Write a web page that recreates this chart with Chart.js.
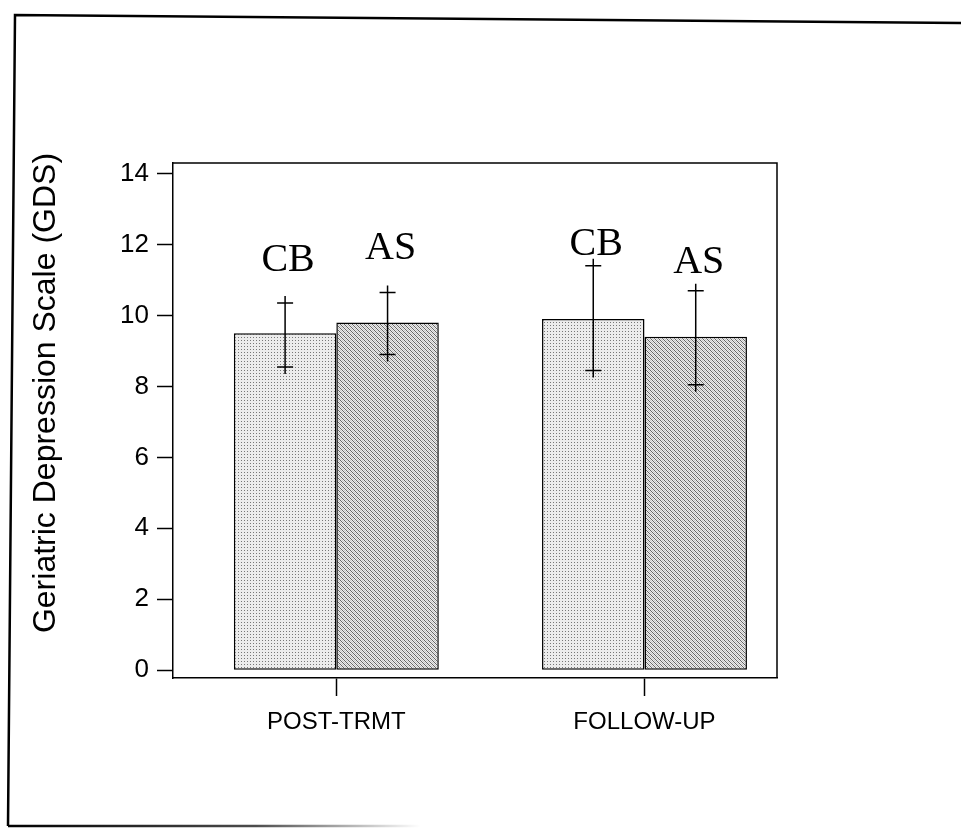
<!DOCTYPE html>
<html>
<head>
<meta charset="utf-8">
<script src="https://cdn.jsdelivr.net/npm/chart.js@4/dist/chart.umd.min.js"></script>
<style>
  html, body { margin: 0; padding: 0; background: #fff; }
  #wrap { width: 961px; height: 829px; }
</style>
</head>
<body>
<div id="wrap"><canvas id="gdsChart" width="961" height="829"></canvas></div>
<script>
// values
const categories = ['POST-TRMT', 'FOLLOW-UP'];
const groupNames = ['CB', 'AS'];
const cbMeans = [9.5, 9.9];
const asMeans = [9.8, 9.4];
const cbErrLow = [8.55, 8.45];
const cbErrHigh = [10.35, 11.4];
const asErrLow = [8.9, 8.05];
const asErrHigh = [10.65, 10.7];
const yTicks = [0, 2, 4, 6, 8, 10, 12, 14];
// value at which the CB / AS tags sit (text baseline)
const cbTagAt = [11.25, 11.7];
const asTagAt = [11.6, 11.2];

const SANS = '"Liberation Sans", Arial, sans-serif';
const SERIF = '"Liberation Serif", "Times New Roman", serif';

function makePattern(kind) {
  const c = document.createElement('canvas');
  const p = c.getContext('2d');
  if (kind === 'dots') {
    c.width = 3; c.height = 3;
    p.fillStyle = '#ececec';
    p.fillRect(0, 0, 3, 3);
    p.fillStyle = '#777';
    p.fillRect(1, 1, 1, 1);
  } else {
    c.width = 4; c.height = 4;
    p.fillStyle = '#ececec';
    p.fillRect(0, 0, 4, 4);
    p.fillStyle = '#666';
    for (let i = 0; i < 4; i++) {
      p.fillRect(i, i, 1, 1);
    }
    p.fillStyle = '#c4c4c4';
    for (let i = 0; i < 4; i++) {
      p.fillRect((i + 2) % 4, i, 1, 1);
    }
  }
  return p.createPattern(c, 'repeat');
}

function points(arr) {
  return arr.map((v, i) => ({ x: i + 1, y: v }));
}

const errors = [
  { low: cbErrLow, high: cbErrHigh },
  { low: asErrLow, high: asErrHigh }
];
const tags = [cbTagAt, asTagAt];

// page frame of the scanned figure
const pageFrame = {
  id: 'pageFrame',
  beforeDraw(chart) {
    const ctx = chart.ctx;
    ctx.save();
    ctx.strokeStyle = '#000';
    ctx.lineWidth = 2.5;
    ctx.beginPath();
    ctx.moveTo(961, 23);
    ctx.lineTo(15, 15);
    ctx.lineTo(8, 826);
    ctx.stroke();
    const g = ctx.createLinearGradient(8, 0, 420, 0);
    g.addColorStop(0, 'rgba(0,0,0,1)');
    g.addColorStop(0.6, 'rgba(0,0,0,0.7)');
    g.addColorStop(1, 'rgba(0,0,0,0)');
    ctx.strokeStyle = g;
    ctx.beginPath();
    ctx.moveTo(8, 826);
    ctx.lineTo(420, 826);
    ctx.stroke();
    ctx.restore();
  }
};

// top and right edges of the plot box
const plotBox = {
  id: 'plotBox',
  afterDraw(chart) {
    const a = chart.chartArea;
    const ctx = chart.ctx;
    ctx.save();
    ctx.strokeStyle = '#000';
    ctx.lineWidth = 1.5;
    ctx.beginPath();
    ctx.moveTo(a.left, a.top);
    ctx.lineTo(a.right, a.top);
    ctx.lineTo(a.right, a.bottom);
    ctx.stroke();
    ctx.restore();
  }
};

const errorBars = {
  id: 'errorBars',
  afterDatasetsDraw(chart) {
    const ctx = chart.ctx;
    const y = chart.scales.y;
    ctx.save();
    ctx.strokeStyle = '#000';
    ctx.lineWidth = 1.5;
    errors.forEach((e, di) => {
      chart.getDatasetMeta(di).data.forEach((bar, i) => {
        const x = bar.x;
        const yl = y.getPixelForValue(e.low[i]);
        const yh = y.getPixelForValue(e.high[i]);
        ctx.beginPath();
        ctx.moveTo(x, yh - 7);
        ctx.lineTo(x, yl + 7);
        ctx.moveTo(x - 8, yh);
        ctx.lineTo(x + 8, yh);
        ctx.moveTo(x - 8, yl);
        ctx.lineTo(x + 8, yl);
        ctx.stroke();
      });
    });
    ctx.restore();
  }
};

const groupTags = {
  id: 'groupTags',
  afterDatasetsDraw(chart) {
    const ctx = chart.ctx;
    const y = chart.scales.y;
    ctx.save();
    ctx.fillStyle = '#000';
    ctx.font = '40px ' + SERIF;
    ctx.textAlign = 'center';
    ctx.textBaseline = 'alphabetic';
    tags.forEach((t, di) => {
      chart.getDatasetMeta(di).data.forEach((bar, i) => {
        ctx.fillText(groupNames[di], bar.x + 3, y.getPixelForValue(t[i]));
      });
    });
    ctx.restore();
  }
};

const yTitle = {
  id: 'yTitle',
  afterDraw(chart) {
    const ctx = chart.ctx;
    ctx.save();
    ctx.translate(46, 393);
    ctx.rotate(-Math.PI / 2);
    ctx.fillStyle = '#000';
    ctx.font = '32px ' + SANS;
    ctx.textAlign = 'center';
    ctx.textBaseline = 'middle';
    ctx.fillText('Geriatric Depression Scale (GDS)', 0, 0);
    ctx.restore();
  }
};

const ctx = document.getElementById('gdsChart').getContext('2d');
const chart = new Chart(ctx, {
  type: 'bar',
  data: {
    datasets: [
      {
        label: groupNames[0],
        data: points(cbMeans),
        backgroundColor: makePattern('dots'),
        borderColor: '#000',
        borderWidth: 1.5,
        borderSkipped: false,
        barPercentage: 1,
        categoryPercentage: 0.665
      },
      {
        label: groupNames[1],
        data: points(asMeans),
        backgroundColor: makePattern('hatch'),
        borderColor: '#000',
        borderWidth: 1.5,
        borderSkipped: false,
        barPercentage: 1,
        categoryPercentage: 0.665
      }
    ]
  },
  options: {
    responsive: false,
    animation: false,
    layout: { padding: { top: 163, right: 184, left: 0, bottom: 0 } },
    plugins: {
      legend: { display: false },
      tooltip: { enabled: false }
    },
    scales: {
      x: {
        type: 'linear',
        min: 0.47,
        max: 2.43,
        offset: false,
        afterBuildTicks(scale) {
          scale.ticks = categories.map((c, i) => ({ value: i + 1 }));
        },
        afterFit(scale) { scale.height = 151; },
        ticks: {
          callback: (v) => categories[v - 1],
          color: '#000',
          font: { family: SANS, size: 24 },
          padding: 12,
          maxRotation: 0
        },
        grid: {
          offset: false,
          drawOnChartArea: false,
          drawTicks: true,
          tickLength: 18,
          tickColor: '#000',
          tickWidth: 1.5
        },
        border: { display: true, color: '#000', width: 1.5 }
      },
      y: {
        min: -0.22,
        max: 14.3,
        afterBuildTicks(scale) {
          scale.ticks = yTicks.map(v => ({ value: v }));
        },
        afterFit(scale) { scale.width = 173; },
        ticks: {
          color: '#000',
          font: { family: SANS, size: 26 },
          padding: 8
        },
        grid: {
          drawOnChartArea: false,
          drawTicks: true,
          tickLength: 16,
          tickColor: '#000',
          tickWidth: 1.5
        },
        border: { display: true, color: '#000', width: 1.5 }
      }
    }
  },
  plugins: [pageFrame, plotBox, errorBars, groupTags, yTitle]
});
</script>
</body>
</html>
